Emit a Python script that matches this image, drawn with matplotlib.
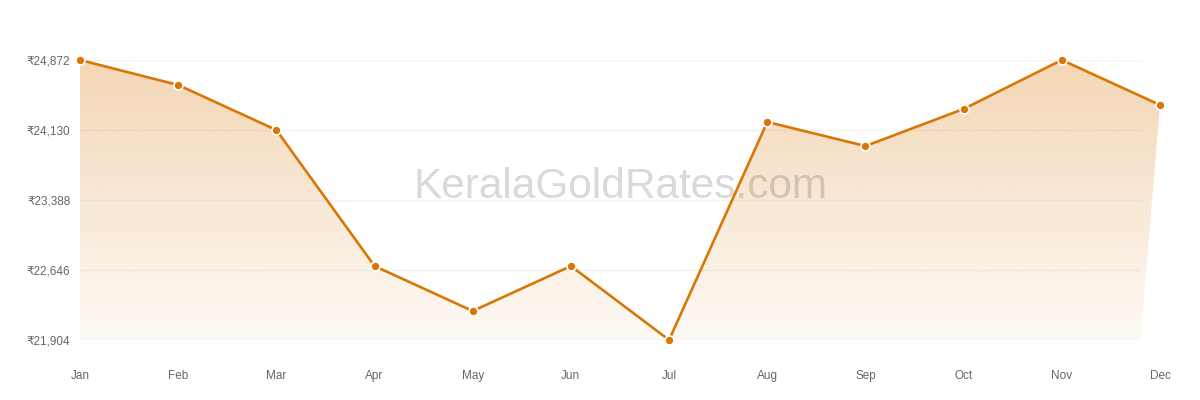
import matplotlib
matplotlib.use("Agg")
from matplotlib import pyplot as plt
from matplotlib.patches import Polygon
import numpy as np

months = ["Jan", "Feb", "Mar", "Apr", "May", "Jun",
          "Jul", "Aug", "Sep", "Oct", "Nov", "Dec"]
rates = [24872, 24607, 24130, 22688, 22211, 22688,
         21904, 24215, 23960, 24353, 24872, 24395]
y_ticks = [21904, 22646, 23388, 24130, 24872]

line_color = "#d97706"
plt.rcParams["font.family"] = ["Liberation Sans", "DejaVu Sans"]

fig = plt.figure(figsize=(12, 4), dpi=100)
ax = fig.add_axes([80 / 1200, 60 / 400, 1080 / 1200, 280 / 400])

x = np.arange(len(months))
ymin, ymax = y_ticks[0], y_ticks[-1]
ax.set_xlim(0, x[-1])
ax.set_ylim(ymin, ymax)

# grid stops a bit short of the last point, like the original
grid_end = x[-1] - 0.2
for t in y_ticks:
    ax.plot([0, grid_end], [t, t], color="#f3f3f3", lw=1, zorder=0)

# gradient area under the line
verts = list(zip(x, rates)) + [(grid_end, ymin), (0, ymin)]
poly = Polygon(verts, closed=True, facecolor="none", edgecolor="none")
ax.add_patch(poly)
grad = np.linspace(0.3, 0.04, 256)[:, None]
top = np.array([217, 119, 6]) / 255
img = np.ones((256, 1, 4))
img[..., :3] = top
img[..., 3] = grad
im = ax.imshow(img, extent=[0, x[-1], ymin, ymax], aspect="auto",
               origin="upper", zorder=1, interpolation="bilinear")
im.set_clip_path(poly)

ax.text(620 / 1200, 1 - 187 / 400, "KeralaGoldRates.com",
        transform=fig.transFigure, ha="center", va="center",
        fontsize=30.5, color="black", alpha=0.15, zorder=2)

ax.plot(x, rates, color=line_color, lw=1.9, zorder=3, clip_on=False,
        solid_joinstyle="round")
ax.plot(x, rates, "o", color=line_color, ms=6.5, mec="white", mew=1.2,
        zorder=4, clip_on=False)

ax.set_xticks(x)
ax.set_xticklabels(months, va="baseline")
ax.set_yticks(y_ticks)
ax.set_yticklabels([f"\u20b9{v:,}" for v in y_ticks])
ax.tick_params(length=0, labelsize=8.5, colors="#666666")
ax.tick_params(axis="x", pad=28)
ax.tick_params(axis="y", pad=7)
for s in ax.spines.values():
    s.set_visible(False)

fig.savefig("out.png", dpi=100)
